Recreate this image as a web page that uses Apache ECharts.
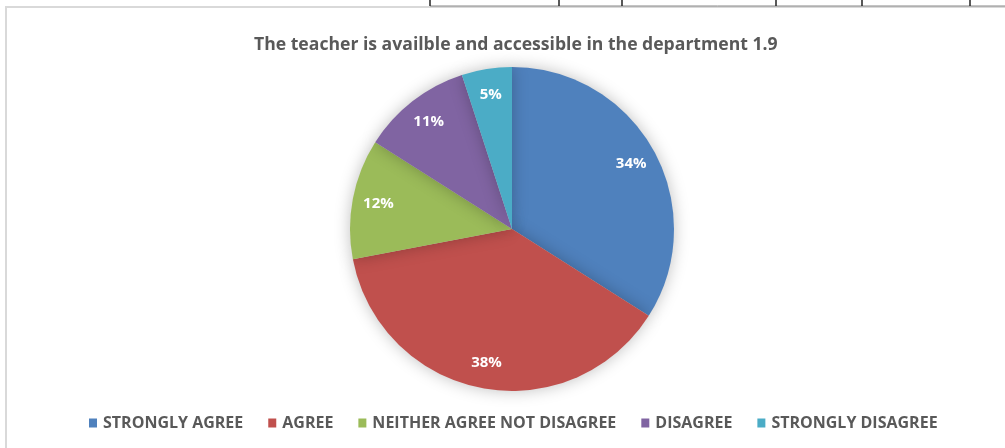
<!DOCTYPE html>
<html>
<head>
<meta charset="utf-8">
<script src="https://cdn.jsdelivr.net/npm/echarts@6/dist/echarts.min.js"></script>
<style>
html,body{margin:0;padding:0;background:#fff;}
#c{width:1005px;height:448px;}
</style>
</head>
<body>
<div id="c"></div>
<script>
const titleText = 'The teacher is availble and accessible in the department 1.9';
const categories = ['STRONGLY AGREE', 'AGREE', 'NEITHER AGREE NOT DISAGREE', 'DISAGREE', 'STRONGLY DISAGREE'];
const values = [34, 38, 12, 11, 5];
const colors = ['#4f81bd', '#c0504d', '#9bbb59', '#8064a2', '#4bacc6'];

const data = categories.map((n, i) => ({ name: n, value: values[i] }));
const tableLinesX = [430, 559, 622, 776, 862, 970];

const chart = echarts.init(document.getElementById('c'), null, { renderer: 'canvas' });
const font = '"Open Sans", "Noto Sans", sans-serif';
chart.setOption({
  backgroundColor: '#ffffff',
  animation: false,
  color: colors,
  title: {
    text: titleText,
    left: 249,
    top: 31,
    textStyle: { fontFamily: font, fontSize: 17.6, fontWeight: 'bold', color: '#595959' }
  },
  legend: {
    data: categories,
    bottom: 12,
    left: 84,
    icon: 'rect',
    itemWidth: 8,
    itemHeight: 9,
    itemGap: 25,
    textStyle: { fontFamily: font, fontSize: 16, fontWeight: 'bold', color: '#595959', padding: [0, 0, 0, 1] }
  },
  graphic: [
    { type: 'polyline', shape: { points: [[6, 448], [6, 7], [1005, 7]] }, style: { stroke: '#d9d9d9', lineWidth: 2, fill: null }, silent: true },
    { type: 'line', shape: { x1: 430, y1: 6, x2: 1005, y2: 6 }, style: { stroke: '#888', lineWidth: 1 }, silent: true }
  ].concat(tableLinesX.map(x => ({ type: 'line', shape: { x1: x, y1: 0, x2: x, y2: 6 }, style: { stroke: '#222', lineWidth: 1.5 }, silent: true }))),
  series: [
    {
      type: 'pie',
      center: [512, 229],
      radius: ['0%', 162],
      startAngle: 90,
      clockwise: true,
      label: { show: false },
      labelLine: { show: false },
      itemStyle: { borderColor: '#ffffff', borderWidth: 0, shadowBlur: 16, shadowColor: 'rgba(0,0,0,0.25)' },
      data: data
    },
    {
      type: 'pie',
      center: [512, 229],
      radius: [104, 162],
      startAngle: 90,
      clockwise: true,
      silent: true,
      legendHoverLink: false,
      itemStyle: { color: 'rgba(0,0,0,0)' },
      label: {
        show: true,
        position: 'inside',
        formatter: '{d}%',
        fontFamily: font,
        fontSize: 15,
        fontWeight: 'bold',
        color: '#ffffff'
      },
      labelLine: { show: false },
      data: data
    }
  ]
});
</script>
</body>
</html>
